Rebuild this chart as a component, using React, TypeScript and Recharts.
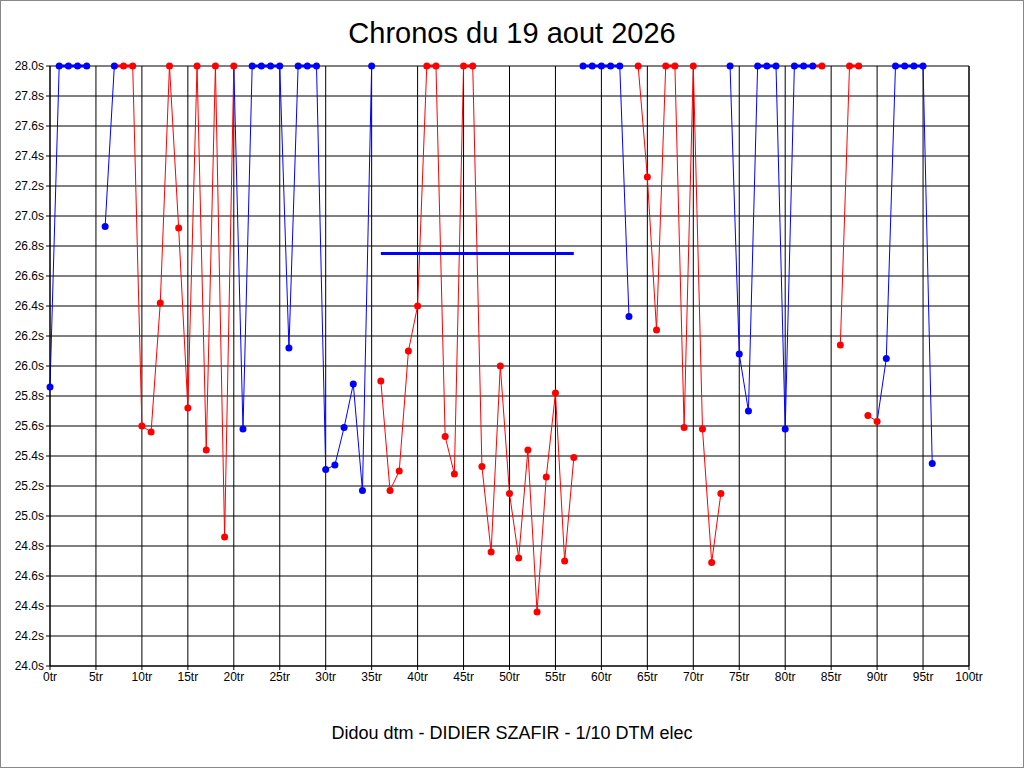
import React from "react";
import { LineChart, Line, XAxis, YAxis, CartesianGrid } from "recharts";

// lap times (s), index = lap number; 28 = off the top of the scale, null = no lap
const lapTimes: (number | null)[] = [
  25.86, 28, 28, 28, 28, null, 26.93, 28, 28, 28,
  25.6, 25.56, 26.42, 28, 26.92, 25.72, 28, 25.44, 28, 24.86,
  28, 25.58, 28, 28, 28, 28, 26.12, 28, 28, 28,
  25.31, 25.34, 25.59, 25.88, 25.17, 28, 25.9, 25.17, 25.3, 26.1,
  26.4, 28, 28, 25.53, 25.28, 28, 28, 25.33, 24.76, 26.0,
  25.15, 24.72, 25.44, 24.36, 25.26, 25.82, 24.7, 25.39, 28, 28,
  28, 28, 28, 26.33, 28, 27.26, 26.24, 28, 28, 25.59,
  28, 25.58, 24.69, 25.15, 28, 26.08, 25.7, 28, 28, 28,
  25.58, 28, 28, 28, 28, null, 26.14, 28, 28, 25.67,
  25.63, 26.05, 28, 28, 28, 28, 25.35,
];
// B = blue, R = red
const lapColors =
  "BBBBB" + "BBBRR" + "RRRRRRRRRR" + "RBBBBBBBBB" + "BBBBBBRRRR" + "RRRRRRRRRR" +
  "RRRRRRRRBB" + "BBBBRRRRRR" + "RRRRBBBBBB" + "BBBBRRRRRR" + "RBBBBBB";
// no line from lap i to lap i+1
const breaks = [35, 57, 63, 73, 88];
const avgLaps = [36, 57];
const avgValue = 26.75;

const xTicks = Array.from({ length: 21 }, (_, i) => i * 5);
const yTicks = Array.from({ length: 21 }, (_, i) => +(24 + i * 0.2).toFixed(1));

const BLUE = "#0000ff";
const RED = "#ff0000";
const colorOf = (i: number) => (lapColors[i] === "R" ? RED : BLUE);

const data = lapTimes.map((v, lap) => ({
  lap, v, c: colorOf(lap),
  avg: lap >= avgLaps[0] && lap <= avgLaps[1] ? avgValue : null,
}));

const segments: number[] = [];
for (let i = 0; i < lapTimes.length - 1; i++) {
  if (lapTimes[i] != null && lapTimes[i + 1] != null && !breaks.includes(i)) segments.push(i);
}

const font = "'Liberation Sans', Arial, sans-serif";
const tick = { fontSize: 12, fill: "#000", fontFamily: font };

export default function App() {
  return (
    <div style={{ position: "absolute", left: 0, top: 0, width: 1022, height: 766, background: "#fff", border: "1px solid #888" }}>
      <div style={{ position: "absolute", top: 16, width: 1022, textAlign: "center", fontFamily: font, fontSize: 29 }}>
        Chronos du 19 aout 2026
      </div>
      <LineChart width={1022} height={766} data={data} margin={{ top: 65, right: 0, bottom: 0, left: 0 }}>
        <CartesianGrid yAxisId="l" stroke="#000" strokeWidth={1} />
        <XAxis dataKey="lap" type="number" domain={[0, 100]} ticks={xTicks} interval={0}
          tickFormatter={(v) => `${v}tr`} tick={tick} height={101}
          axisLine={{ stroke: "#000" }} tickLine={{ stroke: "#000" }} tickSize={4} />
        <YAxis yAxisId="l" domain={[24, 28]} ticks={yTicks} interval={0} width={49}
          tickFormatter={(v) => `${Number(v).toFixed(1)}s`} tick={tick}
          axisLine={{ stroke: "#000" }} tickLine={{ stroke: "#000" }} tickSize={4} />
        <YAxis yAxisId="r" orientation="right" domain={[24, 28]} ticks={yTicks} interval={0} width={54}
          tickFormatter={(v) => `${Number(v).toFixed(1)}s`} tick={tick}
          axisLine={{ stroke: "#000" }} tickLine={{ stroke: "#000" }} tickSize={4} />
        {segments.map((i) => (
          <Line key={`s${i}`} yAxisId="l" dataKey={(d: any) => (d.lap === i || d.lap === i + 1 ? d.v : null)}
            stroke={colorOf(i + 1)} strokeWidth={lapTimes[i] === 28 && lapTimes[i + 1] === 28 ? 3 : 1}
            dot={false} isAnimationActive={false} />
        ))}
        <Line yAxisId="l" dataKey="avg" stroke={BLUE} strokeWidth={3} dot={false} isAnimationActive={false} />
        <Line yAxisId="l" dataKey="v" stroke="none" isAnimationActive={false}
          dot={(p: any) =>
            p.payload.v == null ? <g key={p.index} /> :
            <circle key={p.index} cx={p.cx} cy={p.cy} r={3.5} fill={p.payload.c} />}
        />
      </LineChart>
      <div style={{ position: "absolute", top: 722, width: 1022, textAlign: "center", fontFamily: font, fontSize: 18 }}>
        Didou dtm - DIDIER SZAFIR - 1/10 DTM elec
      </div>
    </div>
  );
}
